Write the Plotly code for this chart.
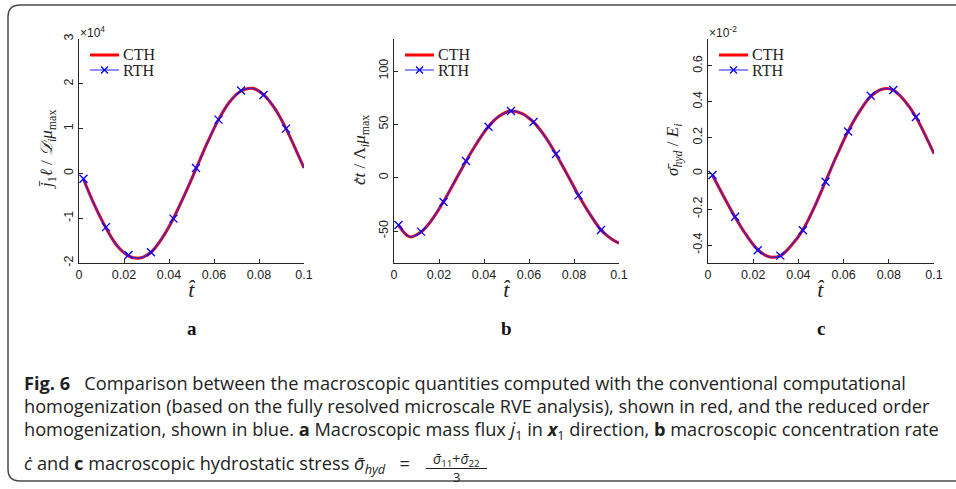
import plotly.graph_objects as go
from plotly.subplots import make_subplots

W, H = 956, 489

# time grid of the curves and the RTH marker positions
t_curve = [0.002, 0.007, 0.012, 0.017, 0.022, 0.027, 0.032, 0.037, 0.042, 0.047, 0.052,
           0.057, 0.062, 0.067, 0.072, 0.077, 0.082, 0.087, 0.092, 0.097, 0.100]
t_mark = [0.002, 0.012, 0.022, 0.032, 0.042, 0.052, 0.062, 0.072, 0.082, 0.092]

# panel a (x1e4)
cth_a = [-0.13, -0.72, -1.22, -1.62, -1.84, -1.89, -1.76, -1.44, -1.00, -0.47, 0.10,
         0.68, 1.20, 1.60, 1.84, 1.90, 1.76, 1.45, 1.00, 0.46, 0.12]
rth_a = [-0.12, -1.20, -1.82, -1.76, -1.01, 0.12, 1.20, 1.85, 1.75, 1.00]

# panel b
cth_b = [-44.5, -55.5, -51.0, -39.0, -22.5, -3.5, 15.5, 33.0, 48.0, 58.0, 62.5,
         60.0, 52.0, 39.0, 22.0, 3.0, -16.5, -34.0, -49.0, -58.0, -61.5]
rth_b = [-44.4, -50.6, -22.8, 15.6, 47.8, 62.5, 52.2, 22.2, -16.6, -49.0]

# panel c (x1e-2)
cth_c = [-0.01, -0.13, -0.245, -0.345, -0.425, -0.465, -0.46, -0.40, -0.315, -0.19, -0.045,
         0.10, 0.235, 0.345, 0.43, 0.47, 0.465, 0.405, 0.315, 0.19, 0.11]
rth_c = [-0.009, -0.242, -0.429, -0.459, -0.317, -0.047, 0.234, 0.433, 0.465, 0.315]

x_ticks = [0, 0.02, 0.04, 0.06, 0.08, 0.1]
x_text = ["0", "0.02", "0.04", "0.06", "0.08", "0.1"]
ya_ticks = [-2, -1, 0, 1, 2, 3]
ya_text = ["-2", "-1", "0", "1", "2", "3"]
yb_ticks = [-50, 0, 50, 100]
yb_text = ["-50", "0", "50", "100"]
yc_ticks = [-0.4, -0.2, 0, 0.2, 0.4, 0.6]
yc_text = ["-0.4", "-0.2", "0", "0.2", "0.4", "0.6"]

panels = [
    dict(cth=cth_a, rth=rth_a, yr=[-2, 3], yt=ya_ticks, ytt=ya_text, px=(79, 304), tx=48,
         ytitle="<i>j̄</i><sub>1</sub><i>ℓ</i> / <i>𝒟<sub>i</sub>μ</i><sub>max</sub>",
         label="a", expo="×10<sup>4</sup>"),
    dict(cth=cth_b, rth=rth_b, yr=[-80, 130], yt=yb_ticks, ytt=yb_text, px=(394, 619), tx=361,
         ytitle="<i>c̄̇t</i> / Λ<sub><i>i</i></sub><i>μ</i><sub>max</sub>",
         label="b", expo=None),
    dict(cth=cth_c, rth=rth_c, yr=[-0.5, 0.75], yt=yc_ticks, ytt=yc_text, px=(708, 934), tx=674,
         ytitle="<i>σ̄</i><sub><i>hyd</i></sub> / <i>E<sub>i</sub></i>",
         label="c", expo="×10<sup>-2</sup>"),
]

SERIF = "Liberation Serif, DejaVu Serif, serif"
SANS = "Liberation Sans, Arial, sans-serif"
AX = "#262626"
Y_TOP, Y_BOT = 39, 263


def px(x):
    return x / W


def py(y):
    return 1 - y / H


def note(x, y, text, size, family=SERIF, color="#222", **kw):
    kw.setdefault("xanchor", "center")
    kw.setdefault("yanchor", "middle")
    fig.add_annotation(x=px(x), y=py(y), xref="paper", yref="paper", text=text,
                       showarrow=False, font=dict(family=family, size=size, color=color), **kw)


fig = make_subplots(rows=1, cols=3)

for i, p in enumerate(panels, start=1):
    fig.add_trace(go.Scatter(x=t_curve, y=p["cth"], mode="lines", name="CTH",
                             line=dict(color="red", width=3, shape="spline")), row=1, col=i)
    fig.add_trace(go.Scatter(x=t_curve, y=p["cth"], mode="lines", name="RTH",
                             line=dict(color="#2a2ae6", width=1.2, shape="spline")),
                  row=1, col=i)
    fig.add_trace(go.Scatter(x=t_mark, y=p["rth"], mode="markers", name="RTH",
                             marker=dict(symbol="x-thin", size=8, color="blue",
                                         line=dict(color="blue", width=1.3))),
                  row=1, col=i)

    x0, x1 = p["px"]
    xa = "xaxis" if i == 1 else f"xaxis{i}"
    ya = "yaxis" if i == 1 else f"yaxis{i}"
    fig.layout[xa].update(domain=[px(x0), px(x1)], range=[0, 0.1],
                          tickvals=x_ticks, ticktext=x_text)
    fig.layout[ya].update(domain=[py(Y_BOT), py(Y_TOP)], range=p["yr"],
                          tickvals=p["yt"], ticktext=p["ytt"], tickangle=-90)

    note(p["tx"], 150, p["ytitle"], 17, textangle=-90)

    # legend drawn by hand so the rows sit as tight as in the original
    lx = x0 + 11
    fig.add_shape(type="line", xref="paper", yref="paper", x0=px(lx), x1=px(lx + 29),
                  y0=py(55), y1=py(55), line=dict(color="red", width=3))
    fig.add_shape(type="line", xref="paper", yref="paper", x0=px(lx), x1=px(lx + 29),
                  y0=py(70), y1=py(70), line=dict(color="#7474ff", width=1.6))
    xm = lx + 14.5
    for dy in (1, -1):
        fig.add_shape(type="line", xref="paper", yref="paper",
                      x0=px(xm - 3.5), x1=px(xm + 3.5),
                      y0=py(70 - 3.5 * dy), y1=py(70 + 3.5 * dy),
                      line=dict(color="blue", width=1.3))
    for yy, name in [(55, "CTH"), (70, "RTH")]:
        note(lx + 31, yy, name, 16, xanchor="left")

    xc = (x0 + x1) / 2
    note(xc, 289, "<i>t̂</i>", 22)
    note(xc, 328, f"<b>{p['label']}</b>", 19, color="#111")
    if p["expo"]:
        note(x0 - 1, 32, p["expo"], 12, family=SANS, xanchor="left")

axis_style = dict(showline=True, linecolor=AX, linewidth=1, ticks="inside", ticklen=4,
                  tickcolor=AX, showgrid=False, zeroline=False, automargin=False,
                  tickfont=dict(family=SANS, size=12.5, color="#222"))
fig.update_xaxes(**axis_style)
fig.update_yaxes(**axis_style)

# outer rounded frame
r = 12
L, T, R, B = 8, 5, 975, 481
fig.add_shape(type="path", xref="paper", yref="paper",
              path=(f"M {px(L + r)} {py(T)} L {px(R)} {py(T)} L {px(R)} {py(B)} "
                    f"L {px(L + r)} {py(B)} Q {px(L)} {py(B)} {px(L)} {py(B - r)} "
                    f"L {px(L)} {py(T + r)} Q {px(L)} {py(T)} {px(L + r)} {py(T)} Z"),
              line=dict(color="#4a4a4a", width=1.5))

caption = [
    "<b>Fig. 6</b>   Comparison between the macroscopic quantities computed with the conventional computational",
    "homogenization (based on the fully resolved microscale RVE analysis), shown in red, and the reduced order",
    "homogenization, shown in blue. <b>a</b> Macroscopic mass flux <i>j̇</i><sub>1</sub> in <b><i>x</i></b><sub>1</sub> direction, <b>b</b> macroscopic concentration rate",
    "<i>ċ</i> and <b>c</b> macroscopic hydrostatic stress <i>σ̄</i><sub><i>hyd</i></sub>\u00a0\u00a0\u00a0=",
]
caption_y = [383, 406, 430, 464]
CAP = "Open Sans, sans-serif"
for line, yy in zip(caption, caption_y):
    note(22, yy, line, 18.2, family=CAP, xanchor="left")

# the fraction (σ̄11 + σ̄22) / 3
note(456, 459, "<i>σ̄</i><sub>11</sub>+<i>σ̄</i><sub>22</sub>", 14, family=CAP)
fig.add_shape(type="line", xref="paper", yref="paper", x0=px(426), x1=px(487),
              y0=py(468.5), y1=py(468.5), line=dict(color="#222", width=1))
note(456, 477, "3", 13, family=CAP)

fig.update_layout(width=W, height=H, margin=dict(l=0, r=0, t=0, b=0),
                  paper_bgcolor="white", plot_bgcolor="white", showlegend=False)

# the page body has a default 8px margin; drop it so the figure fills the window
fig.write_html("out.html", config={"displayModeBar": False},
               post_script="document.body.style.margin='0';")
